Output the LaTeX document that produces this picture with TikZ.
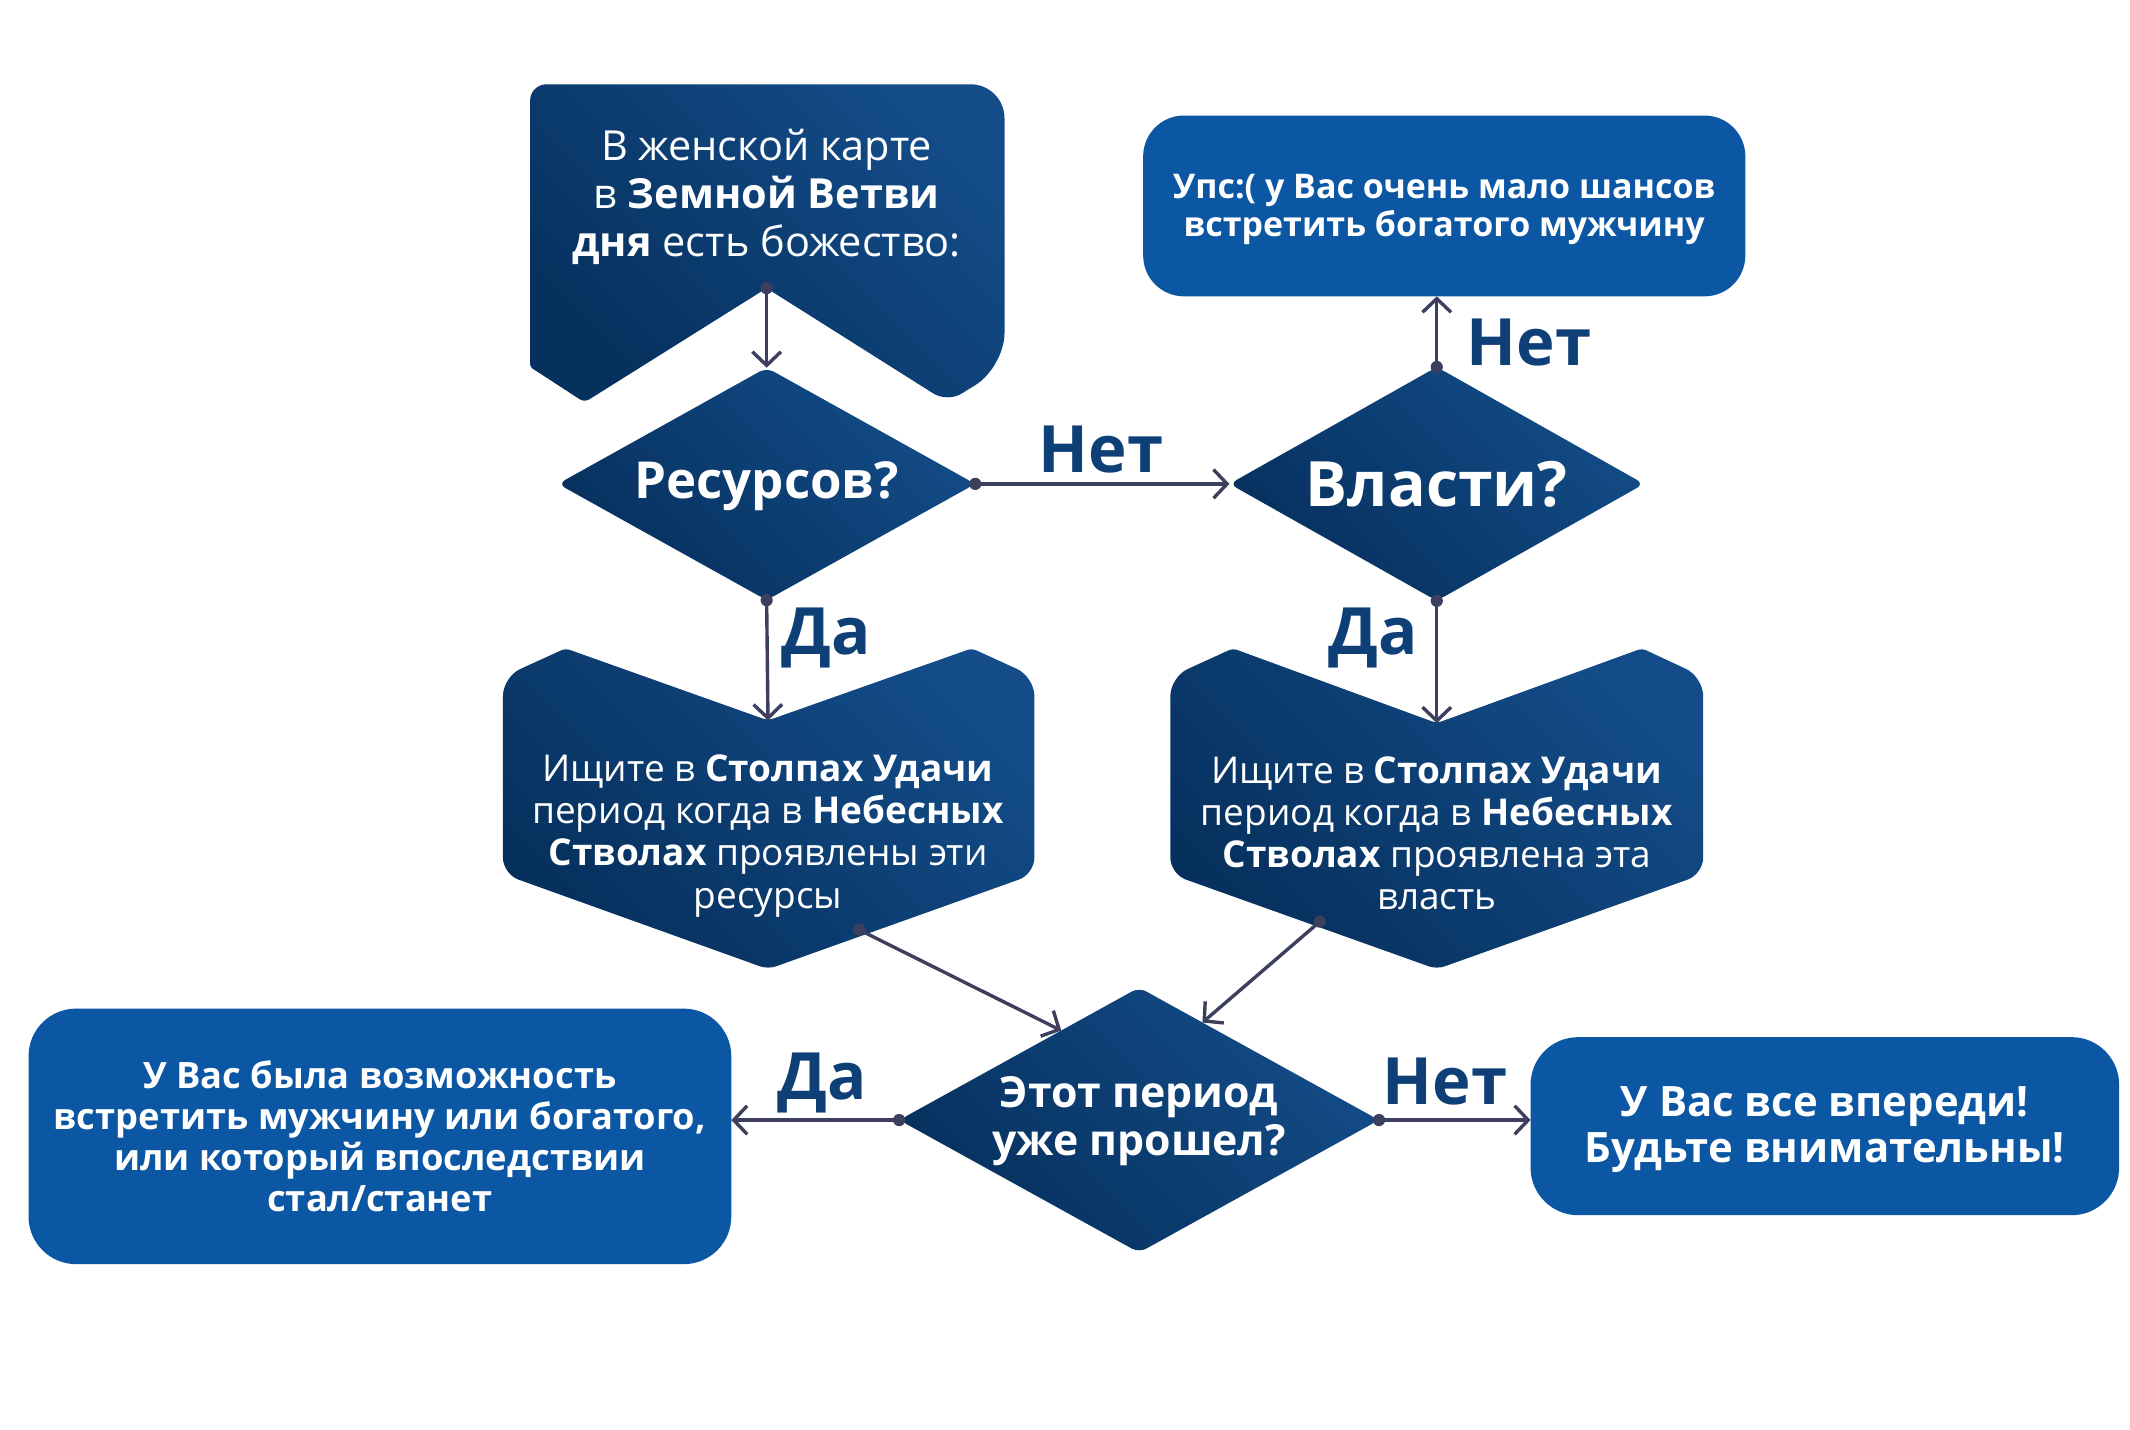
\documentclass[tikz,border=0pt]{standalone}
\usepackage{fontspec}
\setmainfont{Open Sans}
\usetikzlibrary{shapes.geometric,arrows.meta}
\definecolor{navyA}{HTML}{06305D}
\definecolor{navyB}{HTML}{134C88}
\definecolor{boxblue}{HTML}{0C57A4}
\definecolor{labblue}{HTML}{0F3F77}
\definecolor{conn}{HTML}{3D3F5F}
\tikzset{
  grad/.style={top color=navyB, bottom color=navyA, shading angle=-45, draw=none},
  dmd/.style={diamond, grad, inner sep=0pt, outer sep=0pt, rounded corners=6pt},
  rbox/.style={rectangle, fill=boxblue, draw=none, text=white, align=center, inner sep=0pt, outer sep=0pt},
  wtext/.style={text=white, align=center, inner sep=0pt},
  lab/.style={text=labblue, font=\bfseries\fontsize{48}{48}\selectfont, inner sep=0pt},
  link/.style={draw=conn, line width=2.5pt, -{Straight Barb[length=10pt,width=21pt]}},
  dot/.style={fill=conn}
}
\begin{document}
\begin{tikzpicture}[x=1pt,y=-1pt]
\useasboundingbox (0,0) rectangle (1567,1052);
\fill[white] (0,0) rectangle (1567,1052);

% top box with notch
\path[grad] (564,62) [rounded corners=25pt] -- (739,62) [rounded corners=25pt] -- (739,270) [rounded corners=12pt] -- (697,296) [rounded corners=2pt] -- (564,212) [rounded corners=4pt] -- (430,296) [rounded corners=2pt] -- (390,270) [rounded corners=12pt] -- (390,62) [rounded corners=25pt] -- cycle;
\node[wtext, font=\fontsize{30.5}{35.5}\selectfont] (topt) at (564,145) {В женской карте\\в \textbf{Земной Ветви}\\\textbf{дня} есть божество:};
\coordinate (tn) at (564,212);

% diamonds
\node[dmd, minimum width=307pt, minimum height=171pt] (d1) at (564,356) {};
\node[wtext, font=\bfseries\fontsize{37.5}{37.5}\selectfont] (d1t) at ([yshift=-2pt]d1.center) {Ресурсов?};
\node[dmd, minimum width=305pt, minimum height=172pt] (d2) at (1057,356) {};
\node[wtext, font=\bfseries\fontsize{46}{46}\selectfont] (d2t) at (d2.center) {Власти?};
\node[dmd, minimum width=353pt, minimum height=195pt] (d3) at (838,824) {};
\node[wtext, font=\bfseries\fontsize{31.5}{35}\selectfont] (d3t) at ([yshift=-1pt]d3.center) {Этот период\\уже прошел?};

% chevron boxes
\path[grad] (370,570) [rounded corners=14pt] -- (370,498) [rounded corners=3pt] -- (416,477) [rounded corners=4pt] -- (565,530) [rounded corners=3pt] -- (715,477) [rounded corners=14pt] -- (761,498) [rounded corners=12pt] -- (761,643) [rounded corners=6pt] -- (565,713) [rounded corners=12pt] -- (370,643) [rounded corners=14pt] -- cycle;
\node[wtext, font=\fontsize{27.2}{31}\selectfont] (c1t) at (565,615) {Ищите в \textbf{Столпах Удачи}\\период когда в \textbf{Небесных}\\\textbf{Стволах} проявлены эти\\ресурсы};
\coordinate (c1n) at (565,530);
\coordinate (c1o) at (632,684);

\path[grad] (861,570) [rounded corners=14pt] -- (861,498) [rounded corners=3pt] -- (907,477) [rounded corners=4pt] -- (1057,532) [rounded corners=3pt] -- (1208,477) [rounded corners=14pt] -- (1253,498) [rounded corners=12pt] -- (1253,643) [rounded corners=6pt] -- (1057,713) [rounded corners=12pt] -- (861,643) [rounded corners=14pt] -- cycle;
\node[wtext, font=\fontsize{27.2}{31}\selectfont] (c2t) at (1057,613) {Ищите в \textbf{Столпах Удачи}\\период когда в \textbf{Небесных}\\\textbf{Стволах} проявлена эта\\власть};
\coordinate (c2n) at (1057,532);
\coordinate (c2o) at (971,678);

% bright boxes
\node[rbox, rounded corners=30pt, minimum width=443pt, minimum height=133pt] (b1) at (1062.5,151.5) {};
\node[wtext, font=\bfseries\fontsize{25}{27.5}\selectfont] (b1t) at (1062.5,154) {Упс:( у Вас очень мало шансов\\встретить богатого мужчину};
\node[rbox, rounded corners=35pt, minimum width=517pt, minimum height=188pt, font=\bfseries\fontsize{26.7}{30}\selectfont] (b2) at (279.5,836) {У Вас была возможность\\встретить мужчину или богатого,\\или который впоследствии\\стал/станет};
\node[rbox, rounded corners=35pt, minimum width=433pt, minimum height=131pt] (b3) at (1342.5,828.5) {};
\node[wtext, font=\bfseries\fontsize{30.8}{34}\selectfont] (b3t) at (1342.5,831) {У Вас все впереди!\\Будьте внимательны!};

% connectors
\draw[link] (tn) -- (d1.north);
\draw[link] (d1.east) -- (d2.west);
\draw[link] (d2.north) -- (d2.north |- b1.south);
\draw[link] (d1.south) -- (c1n);
\draw[link] (d2.south) -- (c2n);
\draw[link] (c1o) -- (d3.131);
\draw[link] (c2o) -- (d3.57);
\draw[link] (d3.west) -- (b2.east |- d3.west);
\draw[link] (d3.east) -- (b3.west |- d3.east);
\foreach \p in {tn,d1.east,d2.north,d1.south,d2.south,c1o,c2o,d3.west,d3.east}
  \fill[dot] (\p) circle (4.5pt);

% labels
\node[lab] (l1) at (810,331) {Нет};
\node[lab] (l2) at (1125,252) {Нет};
\node[lab] (l3) at (608,469) {Да};
\node[lab] (l4) at (1010,469) {Да};
\node[lab] (l5) at (605,797) {Да};
\node[lab] (l6) at (1063,796) {Нет};
\end{tikzpicture}
\end{document}
